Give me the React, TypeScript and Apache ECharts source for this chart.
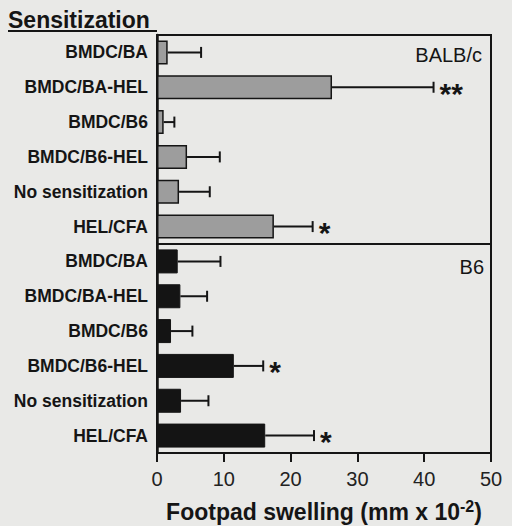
import React, { useEffect, useRef } from "react";
import * as echarts from "echarts";

const categories = ["BMDC/BA", "BMDC/BA-HEL", "BMDC/B6", "BMDC/B6-HEL", "No sensitization", "HEL/CFA"];
const balbMeans = [1.6, 26.2, 1.0, 4.5, 3.3, 17.5];
const balbErrors = [5.0, 15.2, 1.6, 4.9, 4.6, 5.8];
const balbSig = ["", "**", "", "", "", "*"];
const b6Means = [3.1, 3.5, 2.1, 11.5, 3.6, 16.2];
const b6Errors = [6.4, 4.0, 3.2, 4.4, 4.1, 7.3];
const b6Sig = ["", "", "", "*", "", "*"];
const panelLabels = ["BALB/c", "B6"];
const xMin = 0;
const xMax = 50;
const xInterval = 10;

const FONT = "'Liberation Sans', Arial, sans-serif";
const INK = "#151515";

function errorSeries(gridIdx: number, means: number[], errs: number[], sig: string[]) {
  return {
    type: "custom",
    xAxisIndex: gridIdx,
    yAxisIndex: gridIdx,
    encode: { x: 1, y: 0 },
    data: means.map((m, i) => [i, m, errs[i]]),
    z: 5,
    renderItem: (params: any, api: any) => {
      const idx = api.value(0);
      const mean = api.value(1);
      const end = mean + api.value(2);
      const p0 = api.coord([mean, idx]);
      const p1 = api.coord([end, idx]);
      const children: any[] = [
        { type: "line", shape: { x1: p0[0], y1: p0[1], x2: p1[0], y2: p1[1] }, style: { stroke: INK, lineWidth: 2 } },
        { type: "line", shape: { x1: p1[0], y1: p1[1] - 5.5, x2: p1[0], y2: p1[1] + 5.5 }, style: { stroke: INK, lineWidth: 2 } },
      ];
      const s = sig[params.dataIndex];
      if (s) {
        children.push({
          type: "text",
          x: p1[0] + 6,
          y: p1[1] + 6,
          style: { text: s, fill: INK, fontSize: 30, fontWeight: "bold", fontFamily: FONT, align: "left", verticalAlign: "middle" },
        });
      }
      return { type: "group", children };
    },
  };
}

export default function App() {
  const ref = useRef<HTMLDivElement>(null);
  useEffect(() => {
    if (!ref.current) return;
    const chart = echarts.init(ref.current, null, { renderer: "svg" });
    const yAxisBase = (gi: number) => ({
      type: "category",
      gridIndex: gi,
      data: categories,
      inverse: true,
      axisTick: { show: false },
      axisLine: { show: true, lineStyle: { color: INK, width: 2.5 } },
      axisLabel: { fontSize: 17.5, fontWeight: "bold", color: INK, fontFamily: FONT, margin: 9 },
      splitLine: { show: false },
    });
    chart.setOption({
      animation: false,
      backgroundColor: "#e9e9e7",
      textStyle: { fontFamily: FONT },
      grid: [
        { left: 157, top: 35, width: 334, height: 209, show: true, borderColor: INK, borderWidth: 2, backgroundColor: "transparent", outerBoundsMode: "none", containLabel: false },
        { left: 157, top: 244, width: 334, height: 209, show: true, borderColor: INK, borderWidth: 2, backgroundColor: "transparent", outerBoundsMode: "none", containLabel: false },
      ],
      xAxis: [
        { type: "value", gridIndex: 0, min: xMin, max: xMax, interval: xInterval, show: false, splitLine: { show: false } },
        {
          type: "value",
          gridIndex: 1,
          min: xMin,
          max: xMax,
          interval: xInterval,
          splitLine: { show: false },
          axisLine: { show: true, lineStyle: { color: INK, width: 2 } },
          axisTick: { show: true, length: 9, lineStyle: { color: INK, width: 2 } },
          axisLabel: { fontSize: 20, color: "#222", fontFamily: FONT, margin: 16 },
          name: "{a|Footpad swelling (mm x 10}{s|-2}{a|)}",
          nameLocation: "middle",
          nameGap: 45,
          nameTextStyle: {
            rich: {
              a: { fontSize: 23, fontWeight: "bold", color: INK, fontFamily: FONT, lineHeight: 28 },
              s: { fontSize: 16, fontWeight: "bold", color: INK, fontFamily: FONT, verticalAlign: "top", lineHeight: 16 },
            },
          },
        },
      ],
      yAxis: [yAxisBase(0), yAxisBase(1)],
      series: [
        {
          type: "bar",
          xAxisIndex: 0,
          yAxisIndex: 0,
          data: balbMeans,
          barWidth: 24,
          itemStyle: { color: "#9d9d9d", borderColor: INK, borderWidth: 1.5 },
        },
        errorSeries(0, balbMeans, balbErrors, balbSig),
        {
          type: "bar",
          xAxisIndex: 1,
          yAxisIndex: 1,
          data: b6Means,
          barWidth: 24,
          itemStyle: { color: "#141414", borderColor: INK, borderWidth: 1 },
        },
        errorSeries(1, b6Means, b6Errors, b6Sig),
      ],
      graphic: [
        { type: "text", left: 8, top: 8, style: { text: "Sensitization", fontSize: 23, fontWeight: "bold", fill: INK, fontFamily: FONT } },
        { type: "rect", left: 8, top: 30, shape: { width: 149, height: 2 }, style: { fill: INK } },
        { type: "text", right: 30, top: 45, style: { text: panelLabels[0], fontSize: 20, fill: INK, fontFamily: FONT } },
        { type: "text", right: 28, top: 257, style: { text: panelLabels[1], fontSize: 20, fill: INK, fontFamily: FONT } },
      ],
    });
    return () => chart.dispose();
  }, []);
  return <div ref={ref} style={{ position: "absolute", left: 0, top: 0, width: 512, height: 526 }} />;
}
